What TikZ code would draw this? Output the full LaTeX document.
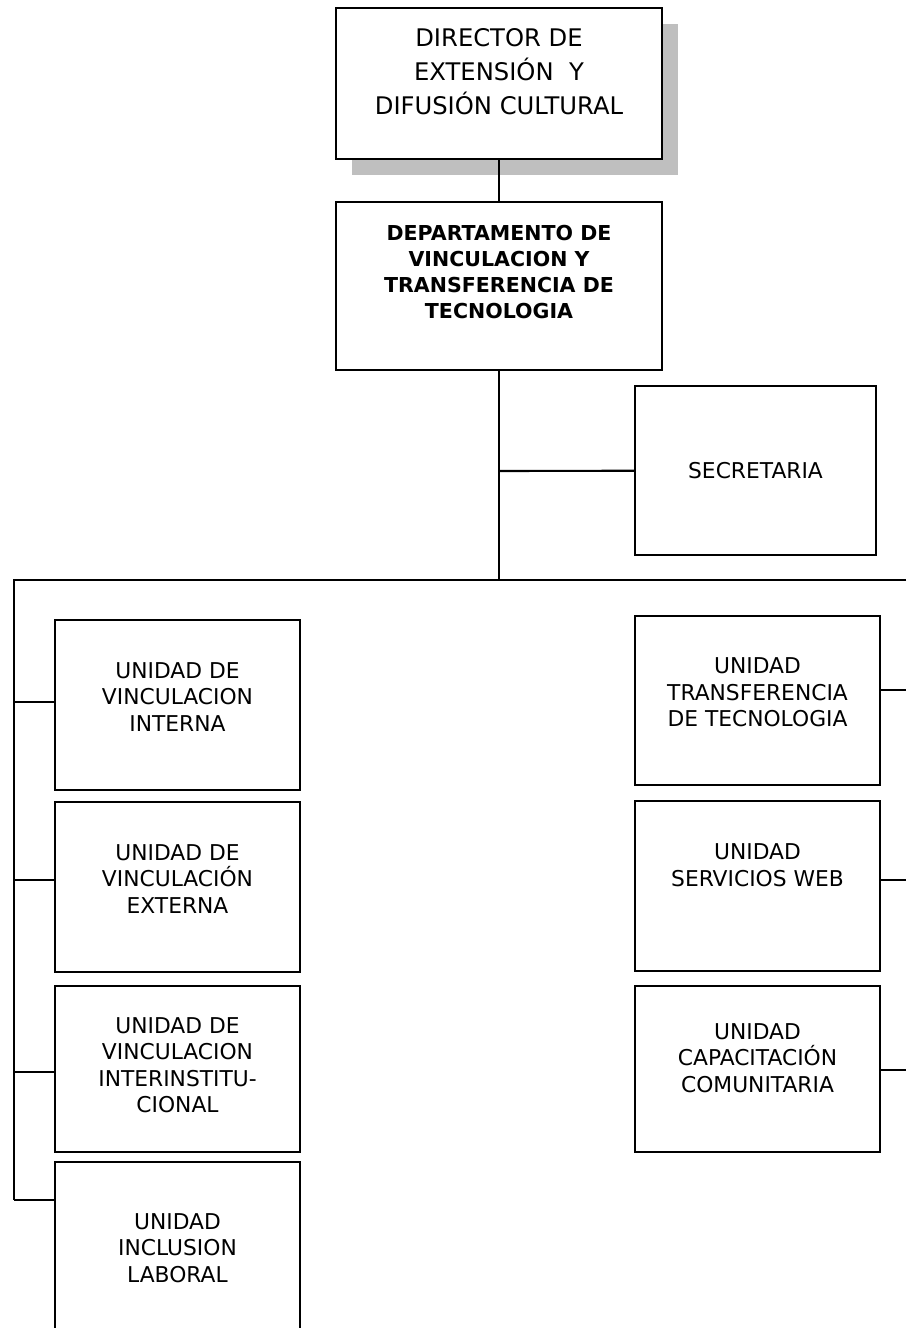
\documentclass[tikz,border=0pt]{standalone}
\usepackage{fontspec}
\setmainfont{DejaVu Sans}
\usetikzlibrary{positioning,calc,shadows}

\begin{document}
\begin{tikzpicture}[x=0.02cm, y=-0.02cm,
  box/.style={draw=black, line width=1.2pt, fill=white, inner sep=2pt,
             align=center, font=\fontsize{12.4}{15}\selectfont},
  unitbox/.style={box, minimum width=4.9cm},
  topbox/.style={box, minimum width=6.52cm},
  edge/.style={line width=1.2pt, black},
]
\useasboundingbox (0,0) rectangle (906,1328);

% top of the chart
\node[topbox, minimum height=3.02cm, font=\fontsize{13.8}{19.4}\selectfont,
      drop shadow={shadow xshift=0.32cm, shadow yshift=-0.32cm,
                   fill=black!25, opacity=1}]
  (dir) at (499, 83.5) {DIRECTOR DE\\EXTENSIÓN\ \ Y\\DIFUSIÓN CULTURAL\\[-5.8pt]};
\node[topbox, minimum height=3.36cm, font=\fontsize{11.7}{14.8}\selectfont\bfseries]
  (dept) at (499, 286) {DEPARTAMENTO DE\\VINCULACION Y\\TRANSFERENCIA DE\\TECNOLOGIA\\[1.2pt]};
\node[box, minimum width=4.82cm, minimum height=3.38cm]
  (sec) at (755.5, 470.5) {SECRETARIA};

% left column
\node[unitbox, minimum height=3.4cm]  (uint) at (177.5, 705)  {UNIDAD DE\\VINCULACION\\INTERNA\\[-5.8pt]};
\node[unitbox, minimum height=3.4cm]  (uext) at (177.5, 887)  {UNIDAD DE\\VINCULACIÓN\\EXTERNA\\[-5.8pt]};
\node[unitbox, minimum height=3.32cm] (uins) at (177.5, 1069) {UNIDAD DE\\VINCULACION\\INTERINSTITU-\\CIONAL\\[-10.4pt]};
\node[unitbox, minimum height=3.44cm] (ulab) at (177.5, 1248) {UNIDAD\\INCLUSION\\LABORAL};

% right column
\node[unitbox, minimum height=3.38cm] (utt)  at (757.5, 700.5) {UNIDAD\\TRANSFERENCIA\\DE TECNOLOGIA\\[-5.4pt]};
\node[unitbox, minimum height=3.4cm]  (uweb) at (757.5, 886)   {UNIDAD\\SERVICIOS WEB\\[9pt]};
\node[unitbox, minimum height=3.32cm] (ucap) at (757.5, 1069)  {UNIDAD\\CAPACITACIÓN\\COMUNITARIA\\[-2.4pt]};

% bus points
\coordinate (hub)  at (499, 580);
\coordinate (lbus) at (14, 580);
\coordinate (rbus) at (906, 580);
\coordinate (secj) at (499, 471);
\coordinate (l1) at (14, 702);
\coordinate (l2) at (14, 880);
\coordinate (l3) at (14, 1072);
\coordinate (l4) at (14, 1200);
\coordinate (r1) at (906, 690);
\coordinate (r2) at (906, 880);
\coordinate (r3) at (906, 1070);

\draw[edge] (dir) -- (dept);
\draw[edge] (dept) -- (hub);
\draw[edge] (secj) -- (sec);
\draw[edge] (rbus) -- (lbus) -- (l4);
\draw[edge] (l1) -- (uint.west |- l1);
\draw[edge] (l2) -- (uext.west |- l2);
\draw[edge] (l3) -- (uins.west |- l3);
\draw[edge] (l4) -- (ulab.west |- l4);
\draw[edge] (utt.east |- r1) -- (r1);
\draw[edge] (uweb.east |- r2) -- (r2);
\draw[edge] (ucap.east |- r3) -- (r3);
\end{tikzpicture}
\end{document}
